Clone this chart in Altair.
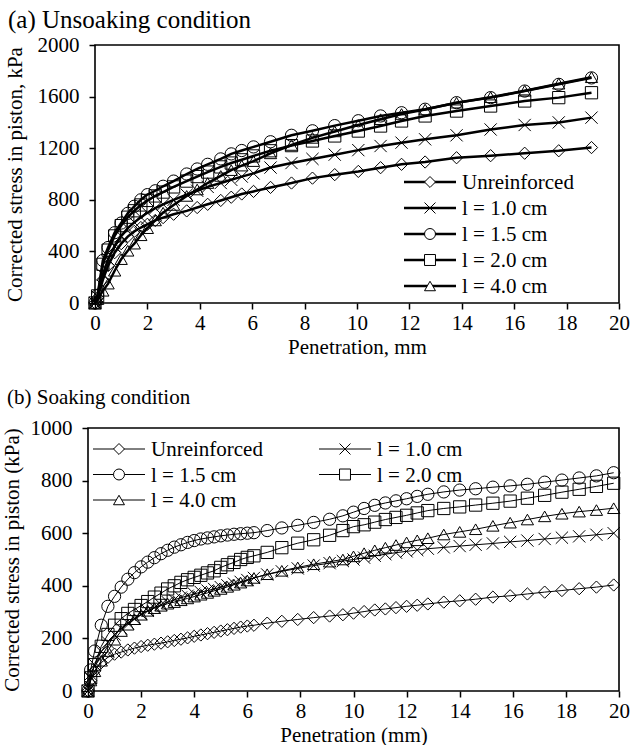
import altair as alt
import pandas as pd

SERIF = "Liberation Serif"

labels = ["Unreinforced", "l = 1.0 cm", "l = 1.5 cm", "l = 2.0 cm", "l = 4.0 cm"]
X_PATH = "M-1,-1L1,1M-1,1L1,-1"
shapes = ["diamond", X_PATH, "circle", "square", "triangle-up"]

# ---- (a) Unsoaking condition: penetration (mm) and piston stress (kPa)
pen_a = [0, 0.1, 0.3, 0.5, 0.75, 1.0, 1.25, 1.5, 1.75, 2.0, 2.3, 2.6, 3.0, 3.5, 3.9,
         4.3, 4.8, 5.2, 5.6, 6.05, 6.7, 7.5, 8.3, 9.15, 10.05, 10.9, 11.7, 12.6,
         13.8, 15.1, 16.4, 17.7, 18.95]
a_unreinforced = [0, 40, 180, 290, 390, 460, 515, 555, 585, 610, 640, 662, 688, 714, 740,
                  765, 795, 820, 845, 865, 896, 930, 968, 995, 1020, 1049, 1075, 1093,
                  1126, 1142, 1161, 1180, 1205]
a_l10 = [0, 50, 220, 340, 440, 520, 580, 625, 665, 700, 735, 765, 800, 840, 870,
         900, 930, 955, 980, 1005, 1050, 1085, 1117, 1150, 1185, 1217, 1243, 1269,
         1300, 1345, 1380, 1400, 1437]
a_l15 = [0, 60, 330, 430, 545, 620, 695, 750, 800, 840, 870, 905, 945, 1000, 1039,
         1075, 1117, 1156, 1182, 1210, 1250, 1300, 1335, 1375, 1413, 1450, 1475, 1502,
         1553, 1592, 1643, 1695, 1745]
a_l20 = [0, 55, 300, 410, 520, 600, 665, 715, 760, 795, 830, 860, 900, 945, 980,
         1015, 1055, 1085, 1110, 1140, 1180, 1220, 1256, 1295, 1333, 1372, 1411, 1450,
         1488, 1527, 1566, 1592, 1630]
a_l40 = [0, 30, 95, 150, 250, 340, 405, 460, 525, 580, 640, 700, 760, 830, 880,
         930, 985, 1030, 1065, 1100, 1160, 1225, 1280, 1330, 1380, 1425, 1465, 1500,
         1553, 1595, 1645, 1700, 1750]

# ---- (b) Soaking condition
pen_b = [0, 0.1, 0.25, 0.5, 0.75, 1.0, 1.25, 1.5, 1.75, 2.0, 2.25, 2.5, 2.75, 3.0,
         3.25, 3.5, 3.75, 4.0, 4.25, 4.5, 4.75, 5.0, 5.25, 5.5, 5.75, 6.0, 6.25,
         6.75, 7.3, 7.9, 8.5, 9.1, 9.6, 10.0, 10.4, 10.8, 11.2, 11.6, 12.0, 12.4,
         12.8, 13.4, 14.0, 14.6, 15.25, 15.9, 16.55, 17.2, 17.85, 18.5, 19.15, 19.8]
b_unreinforced = [0, 40, 76, 108, 128, 140, 148, 156, 163, 169, 174, 178, 182, 187,
                  192, 197, 202, 208, 213, 218, 223, 228, 233, 238, 243, 247, 250,
                  258, 265, 272, 279, 285, 290, 296, 302, 308, 312, 317, 322, 326,
                  331, 338, 343, 349, 357, 362, 369, 376, 382, 389, 395, 403]
b_l10 = [0, 50, 100, 150, 185, 215, 238, 258, 275, 292, 305, 317, 328, 338,
         347, 355, 362, 369, 376, 382, 388, 395, 402, 408, 415, 422, 430,
         443, 455, 466, 477, 486, 494, 500, 507, 514, 520, 526, 531, 536,
         541, 546, 551, 556, 561, 567, 572, 578, 583, 588, 594, 600]
b_l15 = [0, 80, 152, 250, 322, 360, 395, 425, 450, 472, 490, 507, 522, 535,
         547, 556, 565, 572, 578, 582, 586, 590, 593, 596, 598, 600, 602,
         610, 620, 630, 641, 653, 666, 680, 694, 706, 715, 723, 731, 740,
         748, 757, 764, 769, 775, 780, 786, 794, 802, 810, 818, 830]
b_l20 = [0, 50, 100, 170, 215, 250, 275, 295, 310, 325, 340, 357, 372, 388,
         400, 413, 423, 432, 440, 449, 457, 470, 480, 489, 500, 508, 514,
         527, 545, 562, 575, 592, 610, 625, 632, 642, 652, 660, 668, 677,
         686, 694, 700, 707, 714, 722, 733, 744, 756, 767, 778, 790]
b_l40 = [0, 40, 75, 115, 152, 195, 228, 252, 273, 290, 305, 315, 324, 332,
         338, 345, 352, 359, 366, 373, 381, 388, 396, 404, 412, 420, 430,
         444, 457, 470, 482, 492, 500, 512, 524, 535, 545, 555, 565, 573,
         581, 595, 605, 615, 628, 640, 652, 664, 674, 682, 688, 695]


def long_table(pen, columns):
    rows = []
    for name, vals in zip(labels, columns):
        for p, v in zip(pen, vals):
            rows.append({"pen": p, "stress": v, "series": name})
    return pd.DataFrame(rows)


one_row = pd.DataFrame({"k": [0]})


def legend_entry(label, shape, x_line0, x_line1, y, line_w):
    """A hand-built legend row: line segment, hollow marker, label."""
    seg = alt.Chart(one_row).mark_rule(color="black", strokeWidth=line_w).encode(
        x=alt.value(x_line0), x2=alt.value(x_line1), y=alt.value(y))
    mark = alt.Chart(one_row).mark_point(
        filled=False, color="black", fill="white", strokeWidth=1, size=120, opacity=1
    ).encode(x=alt.value((x_line0 + x_line1) / 2), y=alt.value(y), shape=alt.value(shape))
    txt = alt.Chart(one_row).mark_text(
        align="left", baseline="middle", font=SERIF, fontSize=21, color="black"
    ).encode(x=alt.value(x_line1 + 6), y=alt.value(y + 1), text=alt.value(label))
    return [seg, mark, txt]


def panel(df, width, height, x_start, y_max, y_step, y_title, x_title,
          line_w, legend_layers, title_text, title_size, title_x, title_y,
          y_title_pad):
    x_enc = alt.X(
        "pen:Q",
        scale=alt.Scale(domain=[0, 20], range=[x_start, width], nice=False, zero=False),
        axis=alt.Axis(values=list(range(0, 21, 2)), title=x_title, domain=False,
                      grid=False, tickSize=6, labelPadding=3, titlePadding=3,
                      labelFlush=False),
    )
    y_enc = alt.Y(
        "stress:Q",
        scale=alt.Scale(domain=[0, y_max], nice=False),
        axis=alt.Axis(values=list(range(0, y_max + 1, y_step)), title=y_title,
                      format="d", offset=-x_start, domain=False, grid=False,
                      tickSize=6, labelPadding=10, titlePadding=y_title_pad,
                      labelFlush=False),
    )
    lines = alt.Chart(df).mark_line(color="black", strokeWidth=line_w).encode(
        x=x_enc, y=y_enc, detail="series:N")
    points = alt.Chart(df).mark_point(
        filled=False, color="black", strokeWidth=1, size=150, opacity=1
    ).encode(
        x=x_enc, y=y_enc,
        shape=alt.Shape("series:N", scale=alt.Scale(domain=labels, range=shapes),
                        legend=None),
    )
    frame = alt.Chart(one_row).mark_rect(
        filled=False, stroke="black", strokeWidth=1.6
    ).encode(x=alt.value(x_start), x2=alt.value(width), y=alt.value(0),
             y2=alt.value(height))
    heading = alt.Chart(one_row).mark_text(
        align="left", baseline="alphabetic", font=SERIF, fontSize=title_size,
        color="black"
    ).encode(x=alt.value(title_x), y=alt.value(title_y), text=alt.value(title_text))
    return alt.layer(lines, points, frame, heading, *legend_layers).properties(
        width=width, height=height)


df_a = long_table(pen_a, [a_unreinforced, a_l10, a_l15, a_l20, a_l40])
df_b = long_table(pen_b, [b_unreinforced, b_l10, b_l15, b_l20, b_l40])

W = 531
XS_A = 7

legend_a = []
for i, (lab, shp) in enumerate(zip(labels, shapes)):
    legend_a += legend_entry(lab, shp, 316, 368, 137 + 26 * i, 2.5)

legend_b = []
slots_b = [(0, 0), (1, 0), (0, 1), (1, 1), (0, 2)]
for (col, row), lab, shp in zip(slots_b, labels, shapes):
    x0 = 5 + col * 226
    legend_b += legend_entry(lab, shp, x0, x0 + 52, 21 + 25.5 * row, 1)

top = panel(df_a, W, 258, XS_A, 2000, 400, "Corrected stress in piston, kPa",
            "Penetration, mm", 2.5, legend_a, "(a) Unsoaking condition", 25, -80, -17,
            12)
bottom = panel(df_b, W, 263, 0, 1000, 200, "Corrected stress in piston (kPa)",
               "Penetration (mm)", 1, legend_b, "(b) Soaking condition", 21, -81, -24,
               8)

chart = alt.vconcat(top, bottom, spacing=30).properties(
    padding={"left": 0, "top": 8, "right": 0, "bottom": 0}
).configure_view(stroke=None).configure_axis(
    labelFont=SERIF, titleFont=SERIF, labelFontSize=21, titleFontSize=21,
    titleFontWeight="normal", labelColor="black", titleColor="black",
    tickColor="black", tickWidth=1.5,
)

chart.save("out.html", embed_options={"renderer": "svg", "actions": False})
